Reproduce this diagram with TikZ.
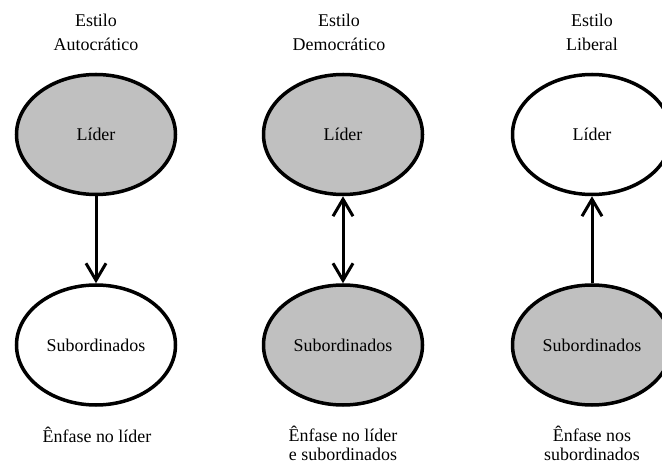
\documentclass[tikz,border=0pt]{standalone}
\usepackage{fontspec}
\setmainfont{Liberation Serif}
\usetikzlibrary{shapes.geometric,arrows.meta}
\definecolor{fillgray}{HTML}{C0C0C0}
\begin{document}
\begin{tikzpicture}[x=1bp,y=-1bp,
  >={Straight Barb[length=17bp,width=20bp,line width=3bp]},
  oval/.style={ellipse,draw=black,line width=3.5bp,minimum width=159bp,
    minimum height=120bp,inner sep=0pt,font=\fontsize{18}{20}\selectfont},
  shaded/.style={oval,fill=fillgray},
  plain/.style={oval,fill=white},
  link/.style={line width=3bp,line cap=butt},
  heading/.style={align=center,inner sep=0pt,font=\fontsize{18}{24}\selectfont},
  caption/.style={align=center,inner sep=0pt,font=\fontsize{18}{19}\selectfont}]
  \useasboundingbox (0,0) rectangle (662,464);

  % column headings
  \node[heading] (h1) at (96,32) {Estilo\\Autocrático};
  \node[heading] (h2) at (339,32) {Estilo\\Democrático};
  \node[heading] (h3) at (592,32) {Estilo\\Liberal};

  % leaders
  \node[shaded] (l1) at (96,134.5) {Líder};
  \node[shaded] (l2) at (343,134.5) {Líder};
  \node[plain]  (l3) at (592,134.5) {Líder};

  % subordinates
  \node[plain]  (s1) at (96,345) {Subordinados};
  \node[shaded] (s2) at (343,345) {Subordinados};
  \node[shaded] (s3) at (592,345) {Subordinados};

  % emphasis captions
  \node[caption] (c1) at (97,435) {Ênfase no líder};
  \node[caption] (c2) at (343,443) {Ênfase no líder\\e subordinados};
  \node[caption] (c3) at (592,443) {Ênfase nos\\subordinados};

  % direction of influence
  \draw[link,->] (l1) -- (s1);
  \draw[link,<->] (l2) -- (s2);
  \draw[link,->] (s3) -- (l3);
\end{tikzpicture}
\end{document}
